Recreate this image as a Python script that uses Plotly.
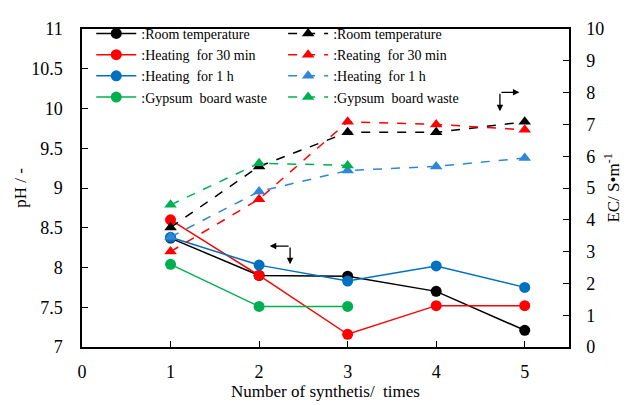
import plotly.graph_objects as go

x = [1, 2, 3, 4, 5]

ph_room = [8.37, 7.90, 7.89, 7.70, 7.21]
ph_heat30 = [8.60, 7.90, 7.16, 7.52, 7.52]
ph_heat1h = [8.38, 8.03, 7.83, 8.02, 7.75]
ph_gypsum = [8.04, 7.51, 7.51]

ec_room = [3.76, 5.68, 6.75, 6.75, 7.08]
ec_heat30 = [3.00, 4.65, 7.08, 7.00, 6.83]
ec_heat1h = [3.46, 4.89, 5.55, 5.68, 5.94]
ec_gypsum = [4.47, 5.78, 5.71]

ph_names = [":Room temperature", ":Heating  for 30 min", ":Heating  for 1 h", ":Gypsum  board waste"]
ec_names = [":Room temperature", ":Reating  for 30 min", ":Heating  for 1 h", ":Gypsum  board waste"]

colors_solid = ["#000000", "#ff0000", "#0070c0", "#00b050"]
colors_dash = ["#000000", "#ff0000", "#2e86d6", "#00b050"]

FONT = "Liberation Serif"

fig = go.Figure()

ph_series = [ph_room, ph_heat30, ph_heat1h, ph_gypsum]
ec_series = [ec_room, ec_heat30, ec_heat1h, ec_gypsum]

for name, ys, c in zip(ph_names, ph_series, colors_solid):
    fig.add_trace(go.Scatter(
        x=x[:len(ys)], y=ys, name=name, mode="lines+markers",
        line=dict(color=c, width=1.5),
        marker=dict(symbol="circle", size=11, color=c),
        yaxis="y", legend="legend"))

for name, ys, c in zip(ec_names, ec_series, colors_dash):
    fig.add_trace(go.Scatter(
        x=x[:len(ys)], y=ys, name=name, mode="lines+markers",
        line=dict(color=c, width=1.5, dash="dash"),
        marker=dict(symbol="triangle-up", size=11, color=c),
        yaxis="y2", legend="legend2"))

# L-shaped arrows indicating axes
arrow = dict(text="", showarrow=True, arrowhead=2, arrowsize=1, arrowwidth=1.3,
             arrowcolor="#000000")
# right-axis indicator (EC)
fig.add_annotation(x=4.94, y=8.01, ax=4.72, ay=8.01, xref="x", yref="y2",
                   axref="x", ayref="y2", **arrow)
fig.add_annotation(x=4.72, y=7.41, ax=4.72, ay=8.01, xref="x", yref="y2",
                   axref="x", ayref="y2", **arrow)
# left-axis indicator (pH)
fig.add_annotation(x=2.12, y=8.27, ax=2.35, ay=8.27, xref="x", yref="y",
                   axref="x", ayref="y", **arrow)
fig.add_annotation(x=2.35, y=8.04, ax=2.35, ay=8.27, xref="x", yref="y",
                   axref="x", ayref="y", **arrow)

axis_common = dict(
    showgrid=False, zeroline=False, showline=True, linecolor="#000000", linewidth=1.5,
    ticks="inside", ticklen=6, tickwidth=1.2, tickcolor="#000000", automargin=False,
    tickfont=dict(family=FONT, size=18, color="#000000"),
)

# the page places the plot 8 px from the top-left corner (body margin)
fig.update_layout(
    width=629, height=397,
    margin=dict(l=74, r=68, t=10, b=58),
    paper_bgcolor="white", plot_bgcolor="white",
    font=dict(family=FONT, color="#000000"),
    xaxis=dict(range=[0, 5.5], tick0=0, dtick=1, mirror=True,
               title=dict(text="Number of synthetis/  times", font=dict(family=FONT, size=17), standoff=2),
               ticklabelstandoff=8, **axis_common),
    yaxis=dict(range=[7, 11], tick0=7, dtick=0.5,
               title=dict(text="pH / -", font=dict(family=FONT, size=17), standoff=0),
               ticklabelstandoff=14, **axis_common),
    yaxis2=dict(range=[0, 10], tick0=0, dtick=1, overlaying="y", side="right",
                title=dict(text="EC/ S•m<sup>-1</sup>", font=dict(family=FONT, size=17), standoff=4),
                ticklabelstandoff=12, **axis_common),
    legend=dict(x=0.019, y=1.035, xanchor="left", yanchor="top", bgcolor="rgba(0,0,0,0)",
                font=dict(family=FONT, size=14), itemwidth=40, tracegroupgap=0),
    legend2=dict(x=0.413, y=1.035, xanchor="left", yanchor="top", bgcolor="rgba(0,0,0,0)",
                 font=dict(family=FONT, size=14), itemwidth=40, tracegroupgap=0),
    showlegend=True,
)

fig.write_html("out.html")
